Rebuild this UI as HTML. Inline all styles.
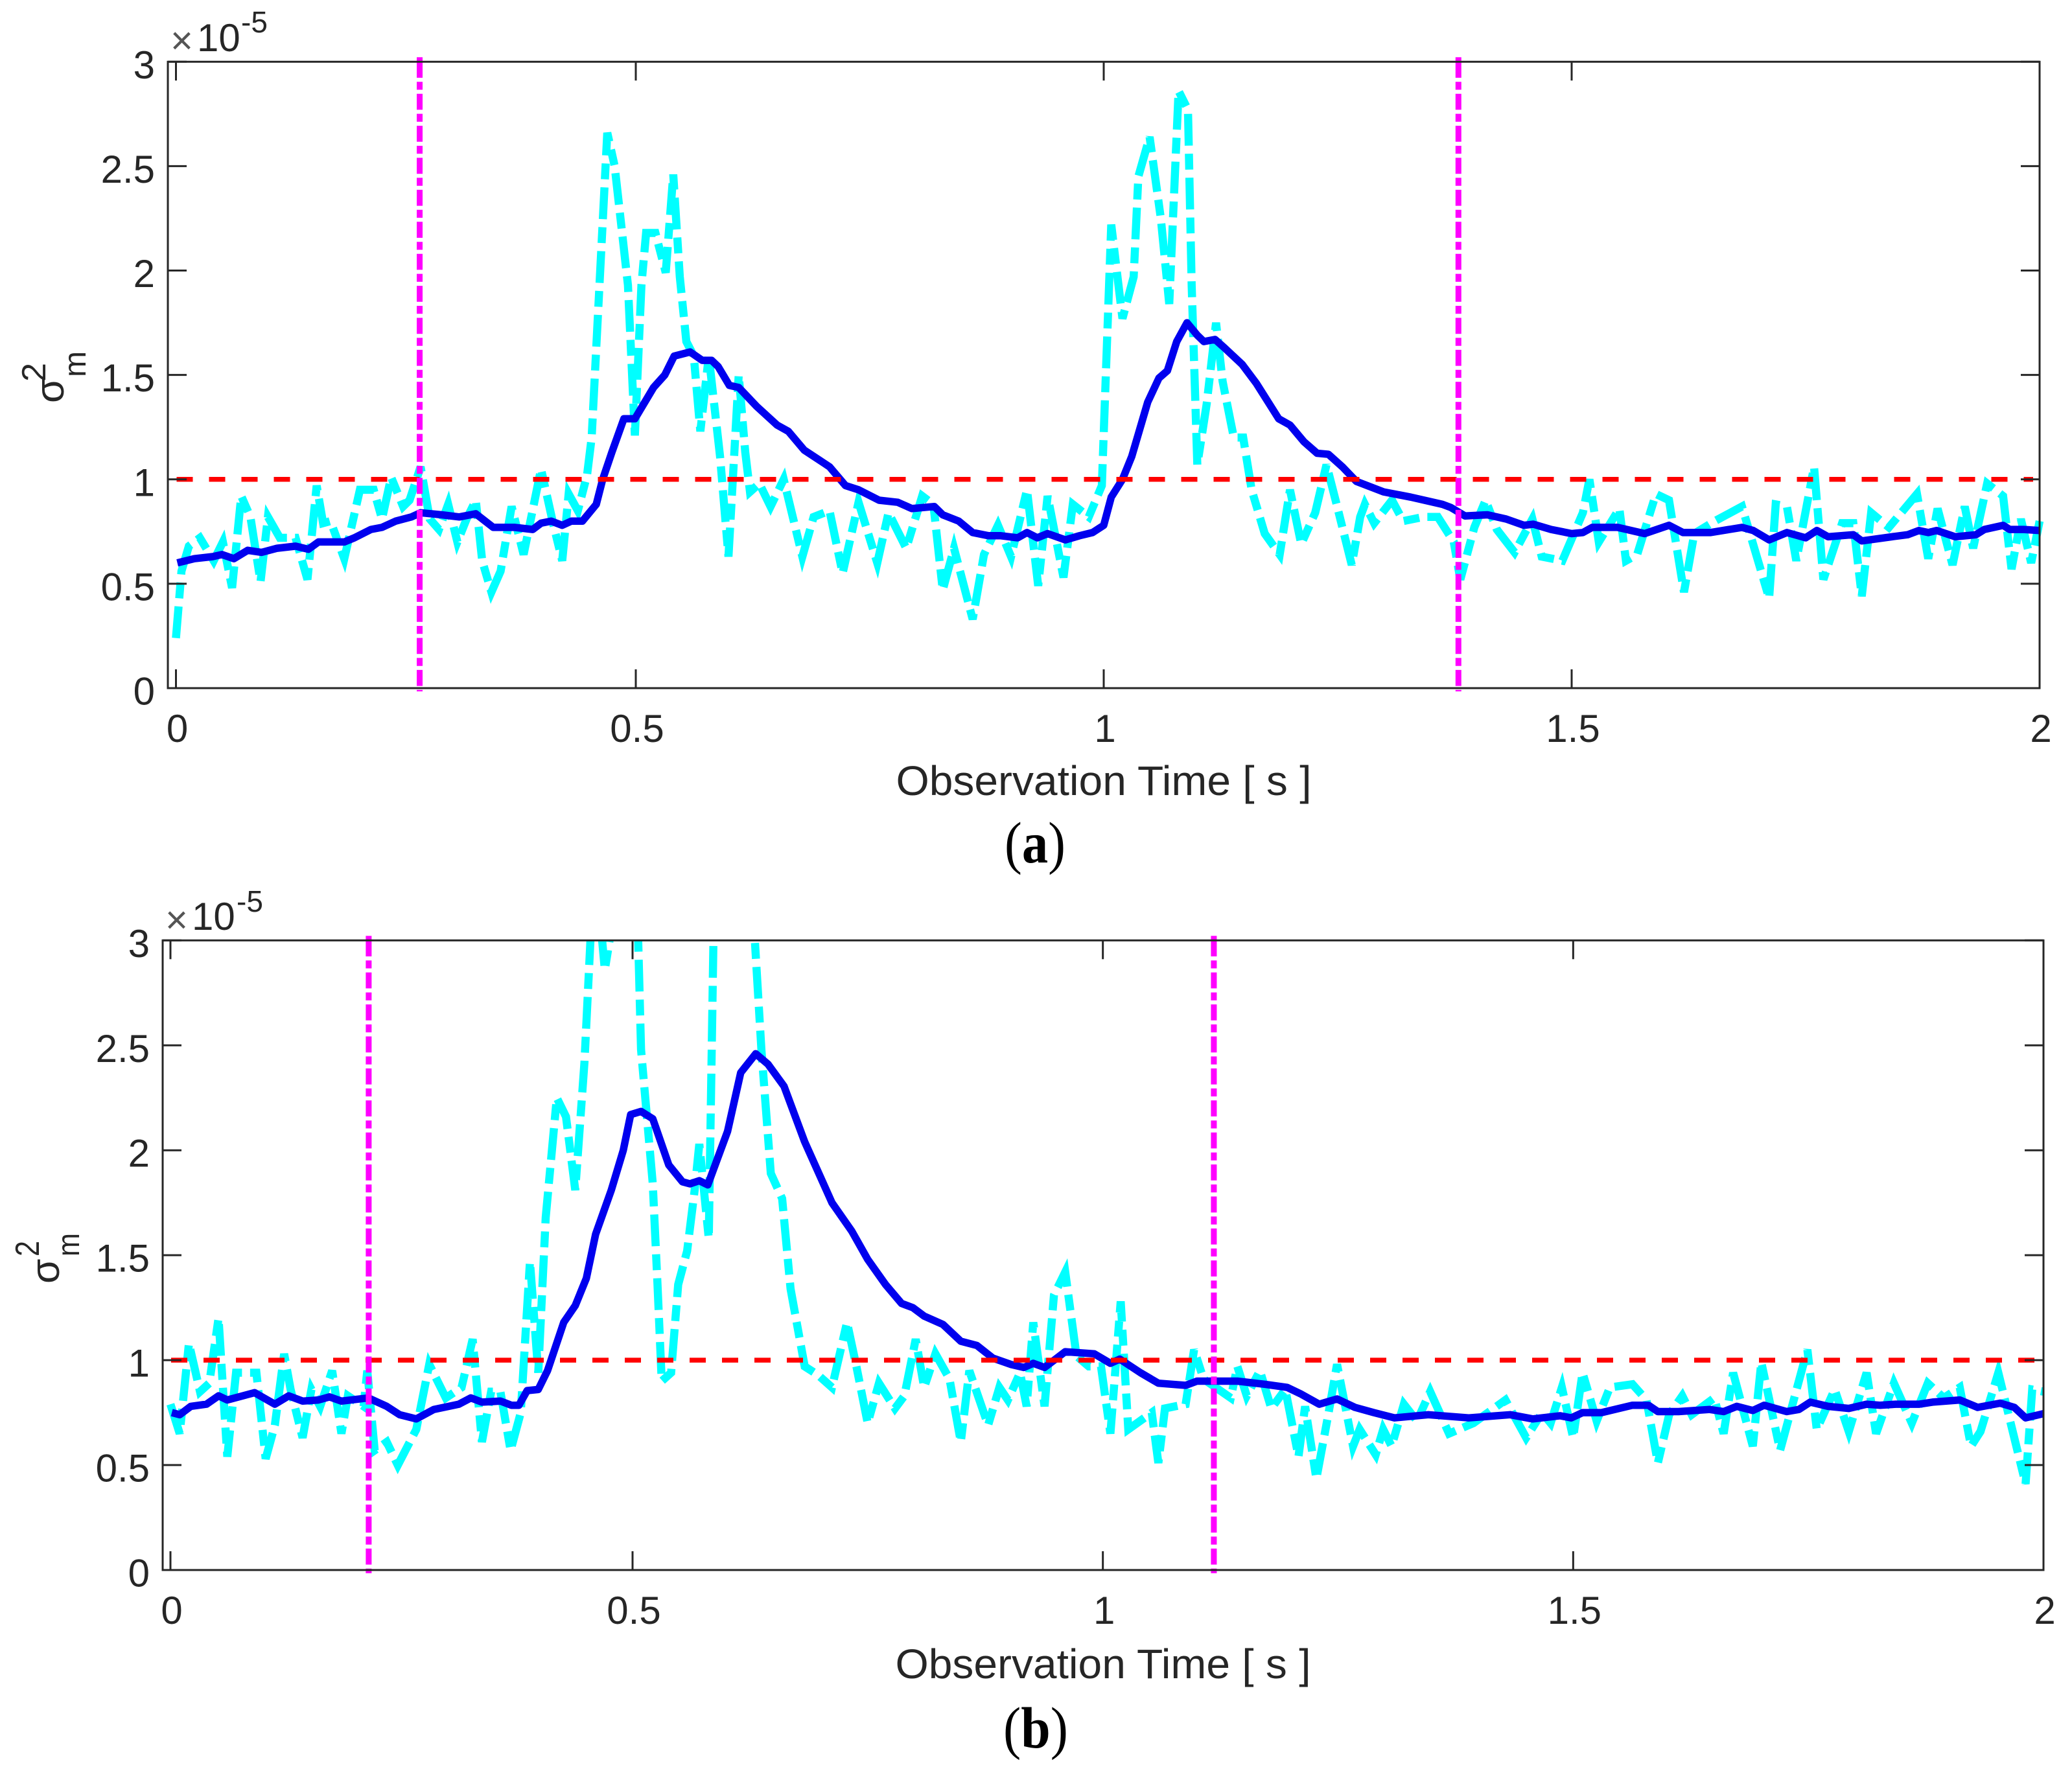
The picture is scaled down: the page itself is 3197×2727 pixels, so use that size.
<!DOCTYPE html>
<html lang="en">
<head>
<meta charset="utf-8">
<title>Observation time variance charts</title>
<style>
html,body{margin:0;padding:0;background:#fff;}
svg{display:block;}
text{font-family:"Liberation Sans",Arial,sans-serif;fill:#262626;}
.times{fill:#555;}
.cap{font-family:"Liberation Serif","Times New Roman",serif;fill:#000;}
</style>
</head>
<body>
<svg id="fig" xmlns="http://www.w3.org/2000/svg" width="3197" height="2727" viewBox="0 0 3197 2727">
<rect x="0" y="0" width="3197" height="2727" fill="#fff"/>
<defs>
<clipPath id="clip-a"><rect x="259" y="92" width="2898" height="970"/></clipPath>
<clipPath id="clip-b"><rect x="251" y="1452" width="2910" height="971"/></clipPath>
</defs>
<g id="panel-a"></g>
<g id="panel-b"></g>

<g>
<text class="times" x="263" y="83" font-size="60">×</text><text x="304" y="79" font-size="60">10</text><text x="372" y="50" font-size="46">-5</text>
</g>
<g>
<text transform="translate(98,622) rotate(-90)" font-size="62">σ</text>
<text transform="translate(70,589) rotate(-90)" font-size="52" textLength="29" lengthAdjust="spacingAndGlyphs">2</text>
<text transform="translate(132,582) rotate(-90)" font-size="48">m</text>
</g>
<text x="1703" y="1227" font-size="64" text-anchor="middle" textLength="641" lengthAdjust="spacingAndGlyphs">Observation Time [ s ]</text>
<text class="cap" x="1597" y="1331" font-size="90" text-anchor="middle" textLength="94" lengthAdjust="spacingAndGlyphs">(<tspan font-weight="bold">a</tspan>)</text>

<g>
<text class="times" x="255" y="1440" font-size="60">×</text><text x="296" y="1435" font-size="60">10</text><text x="365" y="1407" font-size="46">-5</text>
</g>
<g>
<text transform="translate(91,1981) rotate(-90)" font-size="62">σ</text>
<text transform="translate(60,1939) rotate(-90)" font-size="52" textLength="24" lengthAdjust="spacingAndGlyphs">2</text>
<text transform="translate(122,1939) rotate(-90)" font-size="48" textLength="36" lengthAdjust="spacingAndGlyphs">m</text>
</g>
<text x="1702" y="2590" font-size="64" text-anchor="middle" textLength="641" lengthAdjust="spacingAndGlyphs">Observation Time [ s ]</text>
<text class="cap" x="1598" y="2697" font-size="90" text-anchor="middle" textLength="100" lengthAdjust="spacingAndGlyphs">(<tspan font-weight="bold">b</tspan>)</text>
</svg>

<script>
const xTickValues = [0, 0.5, 1, 1.5, 2];
const xTickLabels = ['0', '0.5', '1', '1.5', '2'];
const yTickValues = [0, 0.5, 1, 1.5, 2, 2.5, 3];
const yTickLabels = ['0', '0.5', '1', '1.5', '2', '2.5', '3'];
const thresholdValue = 1;

const aEvents = [0.265, 1.379];
const aCyanTime = [0,.006,.014,.026,.041,.051,.061,.071,.081,.092,.1,.113,.13,.143,.153,.16,.168,.183,.2,.215,.224,.234,.247,.254,.266,.276,.286,.296,.306,.316,.326,.333,.343,.353,.365,.378,.397,.41,.42,.427,.437,.447,.452,.469,.477,.4915,.499,.506,.511,.521,.532,.54,.547,.554,.562,.569,.578,.59,.599,.61,.617,.622,.632,.644,.658,.678,.69,.707,.721,.738,.758,.77,.789,.806,.818,.828,.84,.86,.872,.887,.901,.918,.93,.94,.957,.967,.984,.998,1.008,1.02,1.032,1.037,1.049,1.061,1.07,1.08,1.09,1.094,1.1,1.11,1.12,1.127,1.139,1.149,1.158,1.172,1.188,1.199,1.211,1.226,1.238,1.25,1.265,1.274,1.279,1.289,1.308,1.32,1.342,1.357,1.374,1.381,1.396,1.408,1.42,1.439,1.458,1.468,1.49,1.512,1.519,1.529,1.551,1.558,1.57,1.59,1.604,1.62,1.631,1.653,1.682,1.711,1.718,1.73,1.74,1.759,1.769,1.789,1.801,1.81,1.82,1.839,1.869,1.881,1.891,1.907,1.92,1.929,1.944,1.961,1.97,1.98,1.991,2];
const aCyanValue = [.24,.56,.68,.72,.61,.70,.48,.92,.82,.51,.82,.72,.72,.52,.97,.79,.80,.62,.95,.95,.81,1.01,.87,.90,1.06,.81,.76,.88,.70,.81,.90,.61,.46,.56,.87,.64,1.05,.79,.61,.93,.85,1.02,1.2,2.66,2.5,1.93,1.21,1.93,2.18,2.18,1.99,2.46,1.97,1.66,1.59,1.23,1.59,1.11,.63,1.5,1.13,.94,.98,.87,1.0,.63,.82,.85,.55,.89,.60,.84,.67,.92,.88,.47,.67,.33,.64,.78,.63,.95,.49,.92,.53,.88,.82,.97,2.22,1.77,1.97,2.45,2.64,2.25,1.84,2.86,2.77,1.93,1.07,1.36,1.75,1.47,1.2,1.2,.95,.74,.64,.95,.69,.84,1.07,.86,.59,.82,.88,.79,.90,.8,.82,.82,.70,.52,.77,.9,.76,.65,.81,.63,.61,.84,1.0,.70,.86,.61,.64,.93,.90,.46,.74,.80,.87,.43,.88,.87,.61,1.06,.52,.79,.79,.44,.84,.77,.93,.62,.86,.59,.87,.67,.98,.92,.57,.81,.60,.80];
const aBlueTime = [.0015,.02,.04,.05,.063,.078,.093,.11,.13,.144,.155,.183,.194,.212,.224,.239,.256,.266,.289,.308,.326,.345,.368,.388,.397,.408,.42,.43,.442,.457,.464,.474,.487,.499,.519,.531,.541,.558,.571,.581,.588,.6,.61,.629,.651,.663,.68,.707,.724,.738,.76,.78,.795,.819,.828,.845,.86,.877,.89,.908,.918,.929,.94,.959,.974,.988,1.0,1.008,1.02,1.03,1.047,1.059,1.068,1.078,1.089,1.1,1.107,1.119,1.129,1.148,1.163,1.187,1.199,1.214,1.228,1.24,1.255,1.27,1.299,1.328,1.362,1.371,1.386,1.41,1.43,1.449,1.459,1.478,1.5,1.512,1.522,1.549,1.578,1.604,1.619,1.648,1.682,1.694,1.711,1.73,1.75,1.762,1.774,1.801,1.81,1.842,1.859,1.871,1.881,1.89,1.91,1.932,1.941,1.961,1.968,1.983,2];
const aBlueValue = [.60,.62,.63,.64,.62,.66,.65,.67,.68,.665,.70,.70,.72,.76,.77,.80,.82,.84,.83,.82,.835,.77,.77,.76,.79,.80,.78,.80,.80,.88,1.0,1.13,1.29,1.29,1.44,1.50,1.59,1.61,1.57,1.57,1.54,1.45,1.44,1.35,1.26,1.23,1.14,1.06,.97,.95,.90,.89,.86,.87,.83,.80,.745,.73,.73,.72,.745,.72,.74,.71,.73,.745,.78,.915,1.0,1.11,1.37,1.485,1.52,1.66,1.75,1.69,1.66,1.67,1.63,1.55,1.46,1.29,1.26,1.18,1.125,1.12,1.06,.99,.94,.915,.88,.865,.825,.83,.81,.78,.785,.76,.74,.745,.77,.77,.74,.78,.745,.745,.77,.755,.71,.745,.72,.755,.725,.735,.705,.725,.735,.755,.745,.755,.725,.735,.76,.78,.76,.76,.755];

const bEvents = [0.2145, 1.118];
const bCyanTime = [0,.01,.02,.032,.042,.052,.0615,.071,.081,.093,.103,.113,.123,.13,.143,.1525,.162,.175,.185,.192,.209,.213,.221,.234,.246,.266,.28,.298,.315,.327,.337,.347,.357,.368,.379,.389,.398,.406,.418,.428,.438,.448,.455,.465,.47,.477,.49,.506,.509,.5215,.5265,.531,.541,.5485,.558,.566,.571,.581,.586,.61,.63,.637,.647,.659,.668,.683,.697,.712,.728,.738,.75,.762,.779,.789,.801,.81,.822,.837,.849,.858,.878,.89,.899,.912,.919,.926,.938,.948,.96,.972,.985,.998,1.008,1.019,1.027,1.052,1.059,1.066,1.088,1.097,1.107,1.136,1.143,1.153,1.167,1.179,1.194,1.208,1.215,1.227,1.24,1.249,1.266,1.273,1.29,1.298,1.307,1.32,1.334,1.348,1.368,1.394,1.428,1.45,1.467,1.476,1.488,1.5,1.51,1.525,1.539,1.563,1.578,1.59,1.602,1.616,1.626,1.65,1.66,1.67,1.691,1.7,1.72,1.749,1.759,1.778,1.793,1.812,1.822,1.841,1.86,1.877,1.894,1.911,1.923,1.933,1.952,1.981,1.988,2];
const bCyanValue = [.79,.65,1.08,.85,.89,1.2,.54,.94,.94,.94,.53,.69,1.03,.86,.63,.86,.78,.95,.65,.83,.78,.95,.57,.61,.50,.67,.98,.82,.87,1.10,.61,.85,.85,.57,.75,1.47,.94,1.68,2.25,2.16,1.81,2.42,3.05,3.1,2.86,3.05,3.4,3.0,2.48,1.84,1.36,.9,.94,1.36,1.52,1.81,2.03,1.58,3.0,3.6,3.0,2.48,1.89,1.77,1.34,.97,.93,.87,1.18,.97,.70,.89,.77,.83,1.10,.87,1.03,.91,.61,.95,.69,.87,.81,.94,.78,1.18,.78,1.31,1.42,1.02,.97,.97,.65,1.28,.67,.75,.51,.77,.79,1.05,.91,.82,.97,.83,.95,.77,.86,.54,.78,.435,.75,.98,.59,.67,.55,.67,.59,.79,.71,.85,.65,.70,.81,.63,.75,.70,.87,.63,.94,.71,.87,.885,.81,.51,.74,.83,.74,.82,.65,.94,.59,.99,.57,1.05,.67,.86,.66,.94,.65,.89,.70,.89,.82,.87,.59,.66,.94,.41,.86,.85];
const bBlueTime = [.0015,.01,.022,.039,.052,.0615,.091,.113,.128,.143,.16,.172,.185,.214,.234,.248,.266,.285,.312,.325,.337,.357,.369,.377,.386,.398,.408,.4255,.438,.45,.46,.477,.49,.498,.509,.5215,.5385,.553,.561,.571,.58,.601,.615,.631,.644,.661,.683,.712,.733,.75,.769,.786,.798,.81,.83,.849,.866,.883,.902,.916,.926,.938,.96,.991,1.008,1.018,1.04,1.059,1.088,1.1,1.119,1.143,1.172,1.196,1.21,1.23,1.249,1.268,1.288,1.31,1.346,1.389,1.433,1.457,1.486,1.498,1.51,1.53,1.563,1.58,1.59,1.612,1.645,1.66,1.674,1.691,1.703,1.727,1.74,1.752,1.771,1.793,1.812,1.826,1.843,1.868,1.882,1.911,1.93,1.954,1.969,1.981,2];
const bBlueValue = [.75,.74,.78,.79,.83,.81,.845,.79,.83,.805,.81,.825,.805,.82,.78,.74,.72,.765,.79,.82,.80,.805,.785,.785,.855,.86,.95,1.18,1.26,1.39,1.60,1.81,2.0,2.17,2.185,2.15,1.93,1.85,1.84,1.855,1.835,2.09,2.37,2.46,2.41,2.305,2.04,1.75,1.615,1.48,1.36,1.27,1.25,1.21,1.17,1.09,1.07,1.01,.98,.965,.985,.965,1.04,1.03,.985,1.005,.94,.89,.88,.90,.90,.90,.885,.87,.84,.79,.815,.775,.75,.725,.74,.725,.74,.72,.735,.725,.75,.75,.785,.785,.755,.755,.765,.755,.78,.76,.785,.755,.765,.80,.78,.77,.79,.785,.79,.79,.80,.81,.775,.795,.775,.725,.745];

const NS = 'http://www.w3.org/2000/svg';
function make(parent, tag, attrs, txt) {
  const el = document.createElementNS(NS, tag);
  for (const k in attrs) el.setAttribute(k, attrs[k]);
  if (txt !== undefined) el.textContent = txt;
  parent.appendChild(el);
  return el;
}
function linePath(times, values, xf, yf) {
  return times.map((t, i) => (i ? 'L' : 'M') + xf(t).toFixed(1) + ' ' + yf(values[i]).toFixed(1)).join('');
}
function drawPanel(g, geo, series) {
  const xf = t => t < 0.5 ? geo.x0 + (geo.xHalf - geo.x0) * t / 0.5
                          : geo.xHalf + (geo.right - geo.xHalf) * (t - 0.5) / 1.5;
  const yf = v => geo.bottom - (geo.bottom - geo.top) * v / 3;
  const ink = '#262626';

  const cyan = make(g, 'path', {d: linePath(series.cyanT, series.cyanV, xf, yf), fill: 'none', stroke: '#00ffff', 'stroke-width': 12.5, 'stroke-linejoin': 'miter', 'stroke-dasharray': '49 12.5 24.5 12.5', 'clip-path': 'url(#' + geo.clip + ')'});
  
  

  const blue = make(g, 'path', {d: linePath(series.blueT, series.blueV, xf, yf), fill: 'none', stroke: '#0000ee', 'stroke-width': 11.5, 'stroke-linejoin': 'round', 'clip-path': 'url(#' + geo.clip + ')'});
  
  

  const red = make(g, 'line', {x1: xf(0) + 1, x2: xf(2) - 10, y1: yf(thresholdValue), y2: yf(thresholdValue), stroke: '#ff0000', 'stroke-width': 7.5, 'stroke-dasharray': '25 25'});
  
  

  series.events.forEach(function (t) {
    const m = make(g, 'line', {x1: xf(t), x2: xf(t), y1: geo.top, y2: geo.bottom + 5, stroke: '#ff00ff', 'stroke-width': 9, 'stroke-dasharray': '24.7 6.2 12.3 6.2'});
    
    
    const c = make(g, 'line', {x1: xf(t), x2: xf(t), y1: geo.top - 7, y2: geo.top, stroke: '#ff00ff', 'stroke-width': 9});
    
    
  });

  const box = make(g, 'rect', {x: geo.left, y: geo.top, width: geo.right - geo.left, height: geo.bottom - geo.top, fill: 'none', stroke: ink, 'stroke-width': 3});
  
  

  xTickValues.forEach(function (v, i) {
    const x = xf(v);
    const t1 = make(g, 'line', {x1: x, x2: x, y1: geo.bottom, y2: geo.bottom - 29, stroke: ink, 'stroke-width': 3});
    
    
    const t2 = make(g, 'line', {x1: x, x2: x, y1: geo.top, y2: geo.top + 29, stroke: ink, 'stroke-width': 3});
    
    
    const lab = make(g, 'text', {x: x + 2, y: geo.xLabelY, 'font-size': 60, 'text-anchor': 'middle'}, xTickLabels[i]);
    
    
  });

  yTickValues.forEach(function (v, i) {
    const y = yf(v);
    const t1 = make(g, 'line', {x1: geo.left, x2: geo.left + 29, y1: y, y2: y, stroke: ink, 'stroke-width': 3});
    
    
    const t2 = make(g, 'line', {x1: geo.right, x2: geo.right - 29, y1: y, y2: y, stroke: ink, 'stroke-width': 3});
    
    
    const lab = make(g, 'text', {x: geo.yLabelX, y: y + 25.5, 'font-size': 60, 'text-anchor': 'end'}, yTickLabels[i]);
    
    
  });
}

drawPanel(document.getElementById('panel-a'),
  {left: 259, right: 3147, top: 95.3, bottom: 1062, x0: 271.5, xHalf: 981, clip: 'clip-a', xLabelY: 1145, yLabelX: 239},
  {cyanT: aCyanTime, cyanV: aCyanValue, blueT: aBlueTime, blueV: aBlueValue, events: aEvents});
drawPanel(document.getElementById('panel-b'),
  {left: 251, right: 3153, top: 1451.3, bottom: 2423, x0: 263, xHalf: 976, clip: 'clip-b', xLabelY: 2506, yLabelX: 231},
  {cyanT: bCyanTime, cyanV: bCyanValue, blueT: bBlueTime, blueV: bBlueValue, events: bEvents});
</script>
</body>
</html>
